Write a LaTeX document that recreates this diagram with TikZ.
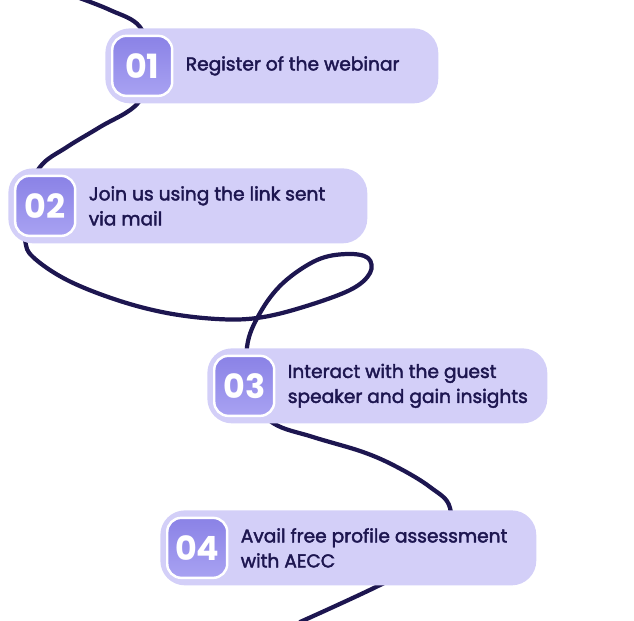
\documentclass[tikz,border=0pt]{standalone}
\usepackage{fontspec}
\setmainfont{Poppins}
\newfontfamily\stepfont{Poppins}[FakeBold=2.2]
\usetikzlibrary{positioning}
\definecolor{pillfill}{HTML}{D3CFF8}
\definecolor{badgetop}{HTML}{8A82E6}
\definecolor{badgebot}{HTML}{A8A2F2}
\definecolor{inkblue}{HTML}{1D1650}

\begin{document}
\begin{tikzpicture}[x=0.02cm, y=-0.02cm,
		pill/.style={fill=pillfill, rounded corners=14pt, anchor=north west, minimum height=1.5cm, inner sep=0pt},
		badge/.style={top color=badgetop, bottom color=badgebot, draw=white, line width=1.4pt, rounded corners=8pt, minimum size=1.2cm, inner sep=0pt, text=white, font=\fontsize{19}{19}\selectfont\bfseries},
		steptext/.style={anchor=west, align=left, text=inkblue, inner sep=0pt, font=\stepfont\fontsize{10.6}{14.2}\selectfont},
		trail/.style={draw=inkblue, line width=2.4pt, line cap=round}]
		\useasboundingbox (0,0) rectangle (634,620);
		% winding line behind the steps
		\draw[trail] plot[smooth, tension=0.6] coordinates {(74,-4) (110,10) (140,27) (152,65) (138,103) (100,127) (67,147) (40,167)
			(22,205) (25,240) (33,257) (67,280) (117,300) (167,313) (217,319) (257,318) (300,308) (350,290) (370,273) (368,258)
			(347,254) (317,260) (283,283) (260,313) (247,347) (250,395) (273,423) (313,437) (363,452) (397,467) (430,487) (450,508)
			(445,550) (380,585) (300,622)};
		% step 1
		\node[pill, minimum width=6.66cm] (p1) at (105,28) {};
		\node[badge, right=0.12cm of p1.west] (n1) {01};
		\node[steptext, right=0.24cm of n1] (t1) {Register of the webinar};
		% step 2
		\node[pill, minimum width=7.18cm] (p2) at (8,168) {};
		\node[badge, right=0.12cm of p2.west] (n2) {02};
		\node[steptext, right=0.24cm of n2] (t2) {Join us using the link sent\\via mail};
		% step 3
		\node[pill, minimum width=6.8cm] (p3) at (207,348) {};
		\node[badge, right=0.12cm of p3.west] (n3) {03};
		\node[steptext, right=0.24cm of n3] (t3) {Interact with the guest\\speaker and gain insights};
		% step 4
		\node[pill, minimum width=7.52cm] (p4) at (160,510) {};
		\node[badge, right=0.12cm of p4.west] (n4) {04};
		\node[steptext, right=0.24cm of n4] (t4) {Avail free profile assessment\\with AECC};
	\end{tikzpicture}
\end{document}
